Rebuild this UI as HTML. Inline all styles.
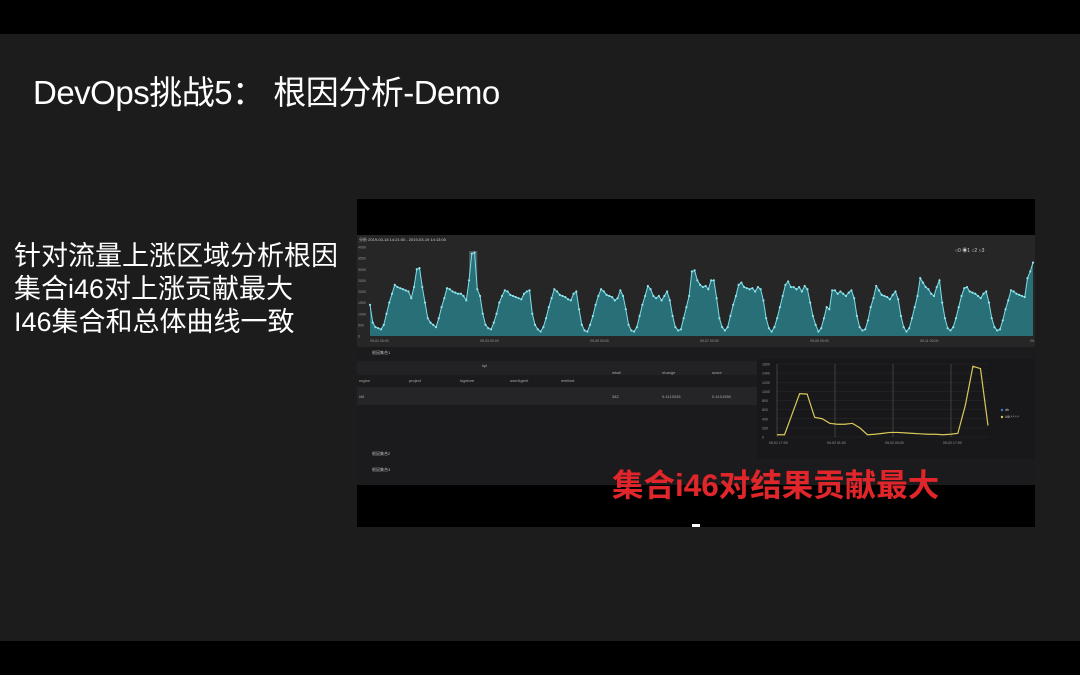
<!DOCTYPE html>
<html><head><meta charset="utf-8">
<style>
body{margin:0;width:1080px;height:675px;background:#1c1c1c;overflow:hidden;position:relative;font-family:"Liberation Sans","Noto Sans CJK SC",sans-serif;color:#fff}
.abs{position:absolute}
</style></head><body>
<div class="abs" style="left:0;top:0;width:1080px;height:34px;background:#000"></div>
<div class="abs" style="left:0;top:641px;width:1080px;height:34px;background:#000"></div>
<div class="abs" style="left:33px;top:66px;font-size:33px;letter-spacing:-0.5px;white-space:nowrap">DevOps挑战5： 根因分析-Demo</div>
<div class="abs" style="left:14px;top:240px;font-size:27px;line-height:33px;white-space:nowrap">针对流量上涨区域分析根因<br>集合i46对上涨贡献最大<br>I46集合和总体曲线一致</div>
<div class="abs" style="left:357px;top:199px;width:678px;height:328px;background:#000">
<svg width="678" height="328" id="svg">
<rect x="0" y="36" width="678" height="112" fill="#262627"/>
<rect x="0" y="148" width="678" height="138" fill="#1b1b1d"/>
<rect x="0" y="162" width="400" height="14" fill="#222224"/>
<rect x="0" y="188" width="400" height="18" fill="#252527"/>
<rect x="400" y="160" width="278" height="100" fill="#18181a"/>
<text x="2" y="42" font-size="4" fill="#ccc">分析  2019-03-18 14:21:00 - 2019-03-19 14:13:00</text>
<text x="15" y="155" font-size="4" fill="#bbb">根因集合1</text>
<text x="15" y="256" font-size="4" fill="#bbb">根因集合2</text>
<text x="15" y="272" font-size="4" fill="#bbb">根因集合3</text>
<g font-size="4" fill="#aaa"><text x="2" y="183">region</text><text x="52" y="183">project</text><text x="103" y="183">logstore</text><text x="153" y="183">userAgent</text><text x="204" y="183">method</text><text x="255" y="175">mkaf</text><text x="305" y="175">nhange</text><text x="355" y="175">score</text><text x="125" y="168">kpi</text>
<text x="2" y="199">i46</text><text x="255" y="199">382</text><text x="305" y="199">0.4110035</text><text x="355" y="199">0.4101950</text></g>
<g font-size="5" fill="#ccc"><text x="598" y="53">○0 ◉1 ○2 ○3</text></g>
<text x="255" y="297" font-size="31.5" font-weight="bold" fill="#e0262a" font-family="Liberation Sans, Noto Sans CJK SC, sans-serif">集合i46对结果贡献最大</text>
<rect x="335" y="325" width="8" height="3" fill="#fff"/>
<g id="main"></g><g id="small"></g>
</svg></div>
<script>
const mainValues=[1400,600,400,350,300,500,1000,1500,1900,2300,2200,2150,2100,2050,2000,1700,2200,3000,3050,2200,1500,800,600,500,400,800,1300,1700,2150,2100,2000,1950,1900,1900,1800,1600,2500,3700,3750,2100,1800,1000,500,350,300,600,1000,1500,1800,2050,2000,1850,1800,1750,1700,1650,1900,2000,2050,1000,500,300,200,400,800,1300,1700,2100,2000,1850,1800,1750,1650,1600,1900,2000,1200,500,250,200,500,900,1400,1800,2100,2000,1850,1800,1750,1600,1700,2050,1800,1200,500,250,200,400,900,1400,1800,2250,2100,1800,1700,1800,1600,1800,2000,1600,900,400,250,300,800,1300,1800,2900,2950,2500,2300,2200,2250,2100,2500,2500,1700,800,400,250,400,900,1400,1800,2300,2400,2200,2150,2100,2150,2000,2200,2100,1600,800,350,200,400,800,1300,1800,2300,2450,2200,2200,2100,2200,2000,2250,2100,1500,900,500,200,350,800,1300,1200,2050,2050,1900,2000,1900,1800,1950,2050,1700,900,400,250,300,700,1300,1700,2250,2050,1850,1800,1750,1650,1850,2000,1650,900,400,200,350,800,1300,1800,2600,2400,2200,2100,1900,1800,2200,2500,1500,800,350,250,400,800,1300,1800,2150,2200,2000,1950,1900,1800,1700,1900,2000,1500,800,400,250,300,700,1200,1600,2050,2000,1900,1850,1800,1750,2600,2900,3300];
const mainYTicks=[0,500,1000,1500,2000,2500,3000,3500,4000];
const mainXTicks=["09-01 00:00","09-03 00:00","09-05 00:00","09-07 00:00","09-09 00:00","09-11 00:00","09-13 00:00"];
const smallValues=[50,50,500,950,940,430,400,300,280,280,300,200,50,60,80,100,100,90,80,70,60,60,50,60,80,700,1550,1500,250];
const smallYTicks=[0,200,400,600,800,1000,1200,1400,1600];
const smallXTicks=["09-01 17:00","09-02 01:00","09-02 09:00","09-02 17:00"];
const NS="http://www.w3.org/2000/svg";
function mk(t,a,p){const e=document.createElementNS(NS,t);for(const k in a)e.setAttribute(k,a[k]);p.appendChild(e);return e;}
const M=document.getElementById('main');
const mx=i=>13+i*(663/(mainValues.length-1)), my=v=>137-v*(89/4000);
mainYTicks.forEach(v=>{const t=mk('text',{x:1,y:my(v)+1.5,'font-size':3.5,fill:'#999'},M);t.textContent=v;

});
mainXTicks.forEach((s,i)=>{const t=mk('text',{x:13+i*110,y:143,'font-size':3.5,fill:'#999'},M);t.textContent=s;

});
mk('rect',{x:mx(36),y:52,width:mx(39)-mx(36),height:85,fill:'#6a8a90',opacity:0.5},M);
let d='M'+mx(0)+','+my(0);mainValues.forEach((v,i)=>d+=' L'+mx(i)+','+my(v));d+=' L'+mx(mainValues.length-1)+','+my(0)+'Z';
const area=mk('path',{d:d,fill:'#286f78'},M);


let l='';mainValues.forEach((v,i)=>l+=(i?' L':'M')+mx(i)+','+my(v));
const line=mk('path',{d:l,fill:'none',stroke:'#7fdde6','stroke-width':1},M);


mainValues.forEach((v,i)=>{const c=mk('circle',{cx:mx(i),cy:my(v),r:1.1,fill:'#8ee6ee'},M);

});
const S=document.getElementById('small');
const sx=i=>420+i*(211/(smallValues.length-1)), sy=v=>238-v*(73/1600);
smallYTicks.forEach(v=>{mk('line',{x1:420,x2:631,y1:sy(v),y2:sy(v),stroke:'#2a2a2c','stroke-width':0.5},S);const t=mk('text',{x:405,y:sy(v)+1.5,'font-size':3.5,fill:'#999'},S);t.textContent=v;

});
smallXTicks.forEach((s,i)=>{const x=420+i*58;mk('line',{x1:x,x2:x,y1:165,y2:238,stroke:'#666','stroke-width':0.5},S);const t=mk('text',{x:x-8,y:245,'font-size':3.5,fill:'#999'},S);t.textContent=s;

});
let sl='';smallValues.forEach((v,i)=>sl+=(i?' L':'M')+sx(i)+','+sy(v));
const sp=mk('path',{d:sl,fill:'none',stroke:'#d9c85a','stroke-width':1.2},S);


mk('circle',{cx:645,cy:211,r:1.2,fill:'#3a7bd5'},S);mk('circle',{cx:645,cy:218,r:1.2,fill:'#d9c85a'},S);
const lg=mk('text',{x:648,y:212,'font-size':3.5,fill:'#ccc'},S);lg.textContent='db';


const lg2=mk('text',{x:648,y:219,'font-size':3.5,fill:'#ccc'},S);lg2.textContent='i46.*.*.*.*';


</script>
</body></html>
